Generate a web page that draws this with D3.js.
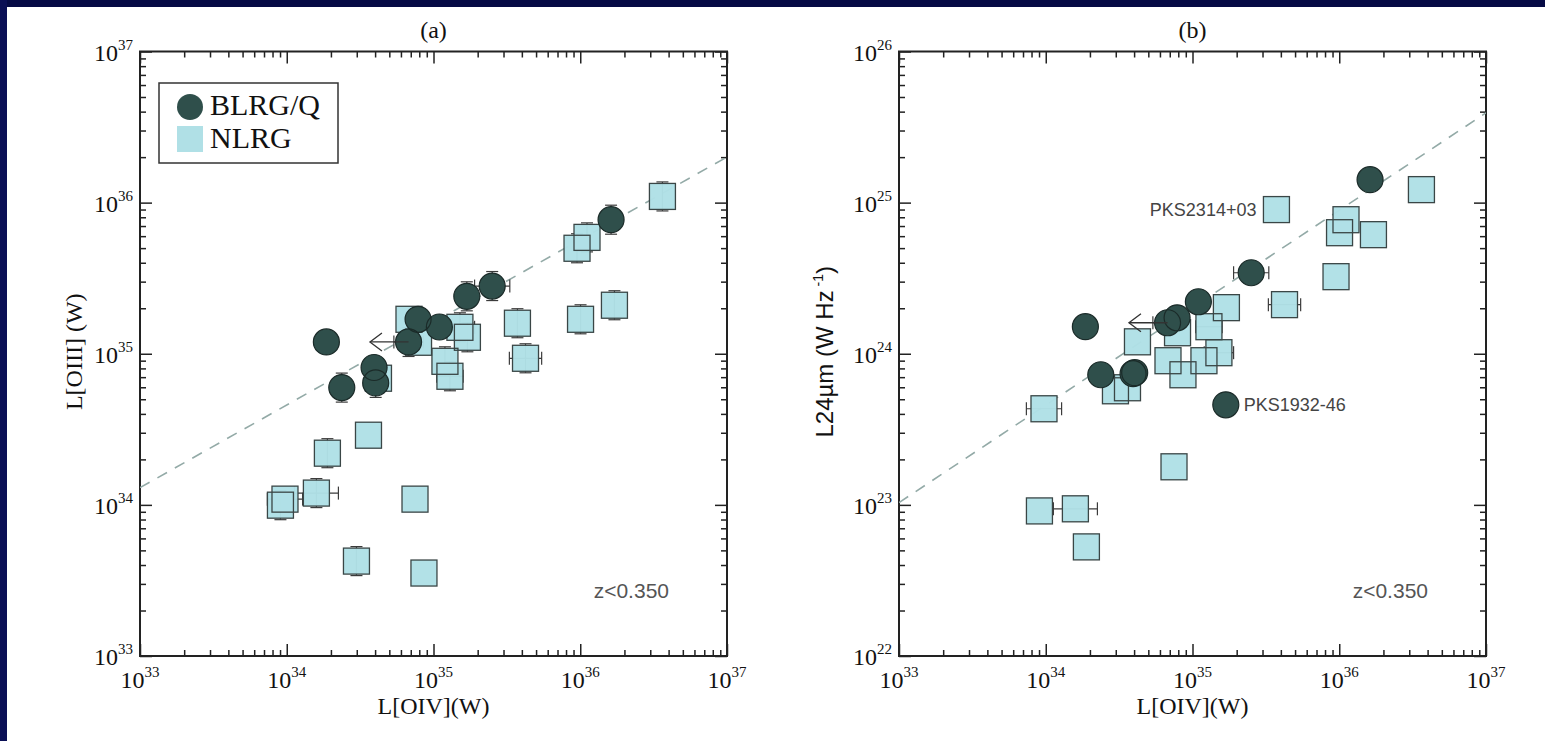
<!DOCTYPE html>
<html><head><meta charset="utf-8">
<script src="https://cdn.jsdelivr.net/npm/d3@7"></script>
<style>body{margin:0;background:#fff;overflow:hidden} svg{display:block}</style>
</head><body>
<svg id="c" width="1545" height="741"></svg>
<script>
// ---------------- DATA (log10 of luminosities) ----------------
// BLRG/Q (circles): shared L[OIV] values
const blrgLogOIV   = [34.27, 34.375, 34.595, 34.606, 34.83, 34.895, 35.04, 35.227, 35.40, 36.21];
const blrgLogOIII  = [35.078, 34.776, 34.909, 34.807, 35.078, 35.228, 35.177, 35.380, 35.448, 35.887];
const blrgLog24    = [24.179, 23.861, 23.868, 23.875, 24.205, 24.238, 24.344, 23.662, 24.536, 25.152];
const blrgXErr     = [0, 0, 0, 0, 0.10, 0, 0, 0, 0.12, 0];
const blrgYErrA    = [0, 0.096, 0, 0.096, 0.096, 0, 0, 0.096, 0.096, 0.096];
const blrgUpperLim = [false, false, false, false, true, false, false, false, false, false];

// NLRG (squares)
const nlrgLogOIV   = [34.833, 34.898, 35.180, 35.231, 35.078, 35.112, 35.572, 35.627, 34.625, 34.557, 34.277,
                      33.988, 33.957, 34.202, 34.874, 34.475, 34.935, 36.560, 36.046, 35.978, 36.233, 36.002];
const nlrgLogOIII  = [35.228, 35.076, 35.175, 35.109, 34.950, 34.851, 35.202, 34.970, 34.838, 34.461, 34.342,
                      34.038, 33.998, 34.078, 34.038, 33.628, 33.549, 36.041, 35.770, 35.698, 35.321, 35.228];
const nlrgLog24    = [23.954, 24.139, 24.007, 24.305, 23.954, 24.179, 24.954, 24.325, 24.079, 23.775, 22.722,
                      23.636, 22.960, 22.974, 23.252, 23.755, 23.861, 25.086, 24.887, 24.510, 24.788, 24.801];
const nlrgXErr     = [0, 0, 0.10, 0, 0, 0.09, 0, 0.11, 0, 0, 0,
                      0.12, 0, 0.15, 0, 0, 0, 0, 0, 0, 0, 0];
const nlrgYErrA    = [0, 0, 0.096, 0.096, 0.096, 0.096, 0.096, 0.096, 0.096, 0, 0.096,
                      0, 0.096, 0.096, 0, 0.096, 0, 0.096, 0.096, 0.096, 0.096, 0.096];

// Fit lines (log endpoints)
const fitA = [[33, 34.114], [37, 36.302]];
const fitB = [[33, 23.015], [37, 25.594]];

// Tick exponents
const xTickExps  = [33, 34, 35, 36, 37];
const yTickExpsA = [33, 34, 35, 36, 37];
const yTickExpsB = [22, 23, 24, 25, 26];

// Annotations (panel b)
const annotations = [
  {text: "PKS2314+03", kind: "square", index: 6, side: "left"},
  {text: "PKS1932-46", kind: "circle", index: 7, side: "right"}
];
const legendItems = ["BLRG/Q", "NLRG"];
const zLabel = "z<0.350";

// ---------------- STYLE ----------------
const circleFill = "#2f4f4b", circleStroke = "#1b2b29";
const squareFill = "#b0e0e6", squareStroke = "#3a4646";
const serif = "'Liberation Serif','Times New Roman',serif";
const sans  = "'Liberation Sans',Arial,Helvetica,sans-serif";
const R = 13, S = 26;

const svg = d3.select("#c");
svg.append("rect").attr("width",1545).attr("height",741).attr("fill","#fff");
svg.append("rect").attr("x",0).attr("y",0).attr("width",1545).attr("height",7).attr("fill","#050a45");
svg.append("rect").attr("x",0).attr("y",0).attr("width",7).attr("height",741).attr("fill","#0a0f55");

const p10 = v => Math.pow(10, v);

function minorTicks(e0, e1) {
  const t = [];
  for (let e = e0; e < e1; e++) for (let m = 2; m <= 9; m++) t.push(m * p10(e));
  return t;
}

function panel(opt) {
  const {left, right, top, bottom, yExps, yVals, sqY, title, xTitle, yTitle, yTitleFont, yTitleX, fit, errYc, errYs} = opt;
  const x = d3.scaleLog().domain([p10(xTickExps[0]), p10(xTickExps[xTickExps.length-1])]).range([left, right]);
  const y = d3.scaleLog().domain([p10(yExps[0]), p10(yExps[yExps.length-1])]).range([bottom, top]);
  const g = svg.append("g");

  // axes (inward ticks)
  const xMaj = xTickExps.map(p10), yMaj = yExps.map(p10);
  const xMin = minorTicks(xTickExps[0], xTickExps[xTickExps.length-1]);
  const yMin = minorTicks(yExps[0], yExps[yExps.length-1]);
  const axisDefs = [
    [d3.axisBottom, x, `translate(0,${bottom})`, xMaj, xMin],
    [d3.axisTop, x, `translate(0,${top})`, xMaj, xMin],
    [d3.axisLeft, y, `translate(${left},0)`, yMaj, yMin],
    [d3.axisRight, y, `translate(${right},0)`, yMaj, yMin]
  ];
  axisDefs.forEach(([fn, sc, tr, maj, min]) => {
    const a1 = g.append("g").attr("transform", tr)
      .call(fn(sc).tickValues(maj).tickSizeInner(-12).tickSizeOuter(0).tickFormat(""));
    const a2 = g.append("g").attr("transform", tr)
      .call(fn(sc).tickValues(min).tickSizeInner(-6).tickSizeOuter(0).tickFormat(""));
    [a1, a2].forEach(a => {
      a.select(".domain").remove();
      a.selectAll("line").attr("stroke", "#222").attr("stroke-width", 1.5);
    });
  });
  g.append("rect").attr("x", left).attr("y", top).attr("width", right-left).attr("height", bottom-top)
    .attr("fill", "none").attr("stroke", "#222").attr("stroke-width", 2);

  // tick labels
  xTickExps.forEach(e => {
    const t = g.append("text").attr("x", x(p10(e))).attr("y", bottom + 32)
      .attr("text-anchor", "middle").attr("font-family", serif).attr("font-size", 24).attr("fill", "#111");
    t.append("tspan").text("10");
    t.append("tspan").attr("dy", -11).attr("font-size", 15).text(e);
  });
  yExps.forEach(e => {
    const t = g.append("text").attr("x", left - 7).attr("y", y(p10(e)) + 9)
      .attr("text-anchor", "end").attr("font-family", serif).attr("font-size", 24).attr("fill", "#111");
    t.append("tspan").text("10");
    t.append("tspan").attr("dy", -11).attr("font-size", 15).text(e);
  });

  // titles
  g.append("text").attr("x", (left+right)/2).attr("y", 38).attr("text-anchor", "middle")
    .attr("font-family", serif).attr("font-size", 24).attr("fill", "#111").text(title);
  g.append("text").attr("x", (left+right)/2).attr("y", 714).attr("text-anchor", "middle")
    .attr("font-family", serif).attr("font-size", 24).attr("fill", "#111").text(xTitle);
  const yt = g.append("text").attr("transform", `translate(${yTitleX},${(top+bottom)/2 - 2}) rotate(-90)`)
    .attr("text-anchor", "middle").attr("font-family", yTitleFont).attr("font-size", 24).attr("fill", "#111");
  yTitle.forEach(p => {
    const ts = yt.append("tspan").text(p.t);
    if (p.sup) ts.attr("dy", -10).attr("font-size", 14);
    if (p.down) ts.attr("dy", 10);
  });

  // fit line
  const clip = "clip" + left;
  svg.append("clipPath").attr("id", clip).append("rect")
    .attr("x", left).attr("y", top).attr("width", right-left).attr("height", bottom-top);
  const line = d3.line().x(d => x(p10(d[0]))).y(d => y(p10(d[1])));
  g.append("path").attr("d", line(fit)).attr("clip-path", `url(#${clip})`)
    .attr("fill", "none").attr("stroke", "#93aaa7").attr("stroke-width", 1.6).attr("stroke-dasharray", "11,9");

  // z label
  g.append("text").attr("x", right - 58).attr("y", 598).attr("text-anchor", "end")
    .attr("font-family", sans).attr("font-size", 21).attr("fill", "#555").text(zLabel);

  const sq = nlrgLogOIV.map((v, i) => ({x: x(p10(v)), y: y(p10(sqY[i])), xe: nlrgXErr[i], ye: errYs[i], lx: v, ly: sqY[i]}));
  const ci = blrgLogOIV.map((v, i) => ({x: x(p10(v)), y: y(p10(yVals[i])), xe: blrgXErr[i], ye: errYc[i], lx: v, ly: yVals[i], ul: blrgUpperLim[i]}));

  function errBars(data) {
    const eg = g.append("g").attr("stroke", "#3b3b3b").attr("stroke-width", 1.2).attr("fill", "none");
    data.forEach(d => {
      if (d.xe > 0) {
        const x0 = x(p10(d.lx - d.xe)), x1 = x(p10(d.lx + d.xe));
        eg.append("line").attr("x1", x0).attr("x2", x1).attr("y1", d.y).attr("y2", d.y);
        eg.append("line").attr("x1", x0).attr("x2", x0).attr("y1", d.y-6.5).attr("y2", d.y+6.5);
        eg.append("line").attr("x1", x1).attr("x2", x1).attr("y1", d.y-6.5).attr("y2", d.y+6.5);
      }
      if (d.ye > 0) {
        const y0 = y(p10(d.ly - d.ye)), y1 = y(p10(d.ly + d.ye));
        eg.append("line").attr("x1", d.x).attr("x2", d.x).attr("y1", y0).attr("y2", y1);
        eg.append("line").attr("x1", d.x-6).attr("x2", d.x+6).attr("y1", y0).attr("y2", y0);
        eg.append("line").attr("x1", d.x-6).attr("x2", d.x+6).attr("y1", y1).attr("y2", y1);
      }
    });
  }
  errBars(sq);
  errBars(ci);

  // squares: fills then outlines
  g.append("g").selectAll("rect").data(sq).join("rect")
    .attr("x", d => d.x - S/2).attr("y", d => d.y - S/2).attr("width", S).attr("height", S)
    .attr("fill", squareFill).attr("fill-opacity", 0.97);
  g.append("g").selectAll("rect").data(sq).join("rect")
    .attr("x", d => d.x - S/2).attr("y", d => d.y - S/2).attr("width", S).attr("height", S)
    .attr("fill", "none").attr("stroke", squareStroke).attr("stroke-width", 1.3);
  // circles
  g.append("g").selectAll("circle").data(ci).join("circle")
    .attr("cx", d => d.x).attr("cy", d => d.y).attr("r", R).attr("fill", circleFill);
  g.append("g").selectAll("circle").data(ci).join("circle")
    .attr("cx", d => d.x).attr("cy", d => d.y).attr("r", R)
    .attr("fill", "none").attr("stroke", circleStroke).attr("stroke-width", 1.2);

  // upper-limit arrows
  ci.filter(d => d.ul).forEach(d => {
    const tip = x(p10(d.lx - 0.263));
    const ag = g.append("g").attr("stroke", "#333").attr("stroke-width", 1.3).attr("fill", "none");
    ag.append("line").attr("x1", d.x).attr("x2", tip).attr("y1", d.y).attr("y2", d.y);
    ag.append("polyline").attr("points", `${tip+12},${d.y-9} ${tip},${d.y} ${tip+12},${d.y+9}`);
  });

  return {x, y, g, sq, ci};
}

// Panel (a)
const A = panel({
  left: 140, right: 727, top: 51.5, bottom: 656,
  yExps: yTickExpsA, yVals: blrgLogOIII, sqY: nlrgLogOIII,
  title: "(a)", xTitle: "L[OIV](W)",
  yTitle: [{t: "L[OIII] (W)"}], yTitleFont: serif, yTitleX: 82,
  fit: fitA, errYc: blrgYErrA, errYs: nlrgYErrA
});

// Panel (b)
const B = panel({
  left: 899, right: 1486, top: 51.5, bottom: 656,
  yExps: yTickExpsB, yVals: blrgLog24, sqY: nlrgLog24,
  title: "(b)", xTitle: "L[OIV](W)",
  yTitle: [{t: "L24\u00b5m (W Hz"}, {t: " -1", sup: true}, {t: ")", down: true}], yTitleFont: sans, yTitleX: 833,
  fit: fitB, errYc: blrgLogOIV.map(() => 0), errYs: nlrgLogOIV.map(() => 0)
});

// annotations in panel b
annotations.forEach(a => {
  const d = a.kind === "square" ? B.sq[a.index] : B.ci[a.index];
  const tx = a.side === "left" ? d.x - 20 : d.x + 18;
  B.g.append("text").attr("x", tx).attr("y", d.y + 6)
    .attr("text-anchor", a.side === "left" ? "end" : "start")
    .attr("font-family", sans).attr("font-size", 18).attr("fill", "#444").text(a.text);
});

// legend in panel (a)
const lg = A.g.append("g");
lg.append("rect").attr("x", 159).attr("y", 83).attr("width", 179).attr("height", 80)
  .attr("fill", "#fff").attr("stroke", "#333").attr("stroke-width", 1.5);
lg.append("circle").attr("cx", 190).attr("cy", 107).attr("r", 13).attr("fill", circleFill);
lg.append("rect").attr("x", 177).attr("y", 126).attr("width", 26).attr("height", 26).attr("fill", squareFill);
legendItems.forEach((t, i) => {
  lg.append("text").attr("x", 210).attr("y", 115 + i * 33)
    .attr("font-family", serif).attr("font-size", 30).attr("fill", "#111").text(t);
});
</script>
</body></html>
